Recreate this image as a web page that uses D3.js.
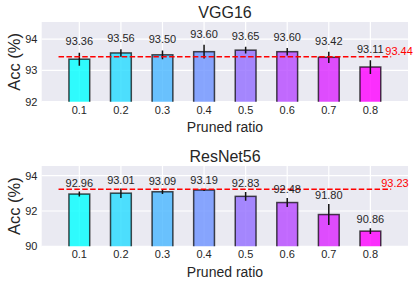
<!DOCTYPE html>
<html><head><meta charset="utf-8">
<script src="https://cdn.jsdelivr.net/npm/d3@7"></script>
<style>body{margin:0;background:#fff}svg{display:block}text{font-family:"Liberation Sans",Arial,sans-serif}</style>
</head><body><svg id="c" width="416" height="283"></svg>
<script>
const categories = ["0.1","0.2","0.3","0.4","0.5","0.6","0.7","0.8"];
const vggValues = [93.36,93.56,93.50,93.60,93.65,93.60,93.42,93.11];
const vggErrors = [0.21,0.12,0.14,0.22,0.11,0.12,0.18,0.22];
const vggBaseline = 93.44;
const vggTicks = [92,93,94];
const resValues = [92.96,93.01,93.09,93.19,92.83,92.48,91.80,90.86];
const resErrors = [0.14,0.27,0.13,0.05,0.25,0.25,0.60,0.16];
const resBaseline = 93.23;
const resTicks = [90,92,94];

const svg = d3.select("#c");
const cool = t => d3.rgb(Math.round(255*t), Math.round(255*(1-t)), 255).toString();

function panel(cfg){
  const x = d3.scaleLinear().domain([-0.905, 7.905]).range([41.7, 408]);
  const y = d3.scaleLinear().domain(cfg.ydom).range([cfg.bottom, cfg.top]);
  const g = svg.append("g");
  const id = "clip"+cfg.key;
  g.append("clipPath").attr("id", id).append("rect")
    .attr("x", x.range()[0]).attr("y", cfg.top).attr("width", x.range()[1]-x.range()[0]).attr("height", cfg.bottom-cfg.top);
  g.append("rect").attr("x", x.range()[0]).attr("y", cfg.top).attr("width", x.range()[1]-x.range()[0]).attr("height", cfg.bottom-cfg.top).attr("fill", "#EAEAF2");
  const grid = g.append("g").attr("stroke", "#fff").attr("stroke-width", 1.2);
  cfg.ticks.forEach(t => grid.append("line").attr("x1", x.range()[0]).attr("x2", x.range()[1]).attr("y1", y(t)).attr("y2", y(t)));
  categories.forEach((c,i) => grid.append("line").attr("x1", x(i)).attr("x2", x(i)).attr("y1", cfg.top).attr("y2", cfg.bottom));
  const plot = g.append("g").attr("clip-path", `url(#${id})`);
  const bw = x(0.5)-x(0);
  plot.selectAll("rect.bar").data(cfg.values).join("rect").attr("class","bar")
    .attr("x", (d,i) => x(i)-bw/2).attr("width", bw)
    .attr("y", d => y(d)).attr("height", d => cfg.bottom + 5 - y(d))
    .attr("fill", (d,i) => cool(i/7)).attr("fill-opacity", 0.8)
    .attr("stroke", "#000").attr("stroke-opacity", 0.7).attr("stroke-width", 1.5);
  plot.selectAll("line.err").data(cfg.values).join("line").attr("class","err")
    .attr("x1", (d,i) => x(i)).attr("x2", (d,i) => x(i))
    .attr("y1", (d,i) => y(d - cfg.errors[i])).attr("y2", (d,i) => y(d + cfg.errors[i]))
    .attr("stroke", "#111").attr("stroke-width", 1.5);
  g.append("line").attr("x1", x(-0.5)).attr("x2", x(7.5)).attr("y1", y(cfg.baseline)).attr("y2", y(cfg.baseline))
    .attr("stroke", "#ff0000").attr("stroke-width", 1.5).attr("stroke-dasharray", "5.5,2.4");
  g.selectAll("text.val").data(cfg.values).join("text").attr("class","val")
    .attr("x", (d,i) => x(i)).attr("y", (d,i) => y(d + cfg.errors[i] + 0.165) - 2)
    .attr("text-anchor", "middle").attr("font-size", 11).attr("fill", "#262626")
    .text(d => d.toFixed(2));
  g.append("text").attr("x", x(cfg.blx)).attr("y", y(cfg.baseline) - 2).attr("font-size", 11).attr("fill", "#ff0000").text(cfg.baseline.toFixed(2));
  g.selectAll("text.yt").data(cfg.ticks).join("text").attr("class","yt")
    .attr("x", 37.5).attr("y", d => y(d)).attr("dy", "0.35em").attr("text-anchor", "end")
    .attr("font-size", 11).attr("fill", "#262626").text(d => d);
  g.selectAll("text.xt").data(categories).join("text").attr("class","xt")
    .attr("x", (d,i) => x(i)).attr("y", cfg.bottom + 12).attr("text-anchor", "middle")
    .attr("font-size", 11).attr("fill", "#262626").text(d => d);
  g.append("text").attr("x", 225).attr("y", cfg.bottom + 30.5).attr("text-anchor", "middle").attr("font-size", 14).attr("fill", "#262626").text("Pruned ratio");
  g.append("text").attr("transform", `translate(19.5,${(cfg.top+cfg.bottom)/2}) rotate(-90)`).attr("text-anchor", "middle").attr("font-size", 16.5).attr("fill", "#262626").text("Acc (%)");
  g.append("text").attr("x", 225).attr("y", cfg.top - 4.5).attr("text-anchor", "middle").attr("font-size", 16).attr("fill", "#262626").text(cfg.title);
}
panel({key:"a", title:"VGG16", values:vggValues, errors:vggErrors, baseline:vggBaseline, ticks:vggTicks, ydom:[92,94.55], top:22, bottom:101.7, blx:7.36});
panel({key:"b", title:"ResNet56", values:resValues, errors:resErrors, baseline:resBaseline, ticks:resTicks, ydom:[90,94.55], top:166, bottom:246.3, blx:7.26});
</script></body></html>
